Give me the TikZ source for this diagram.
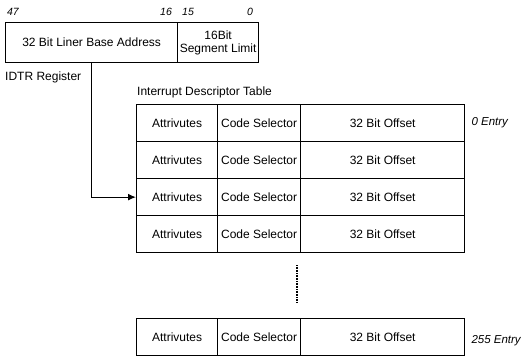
\documentclass[tikz,border=0pt]{standalone}
\usepackage{fontspec}
\setmainfont{Liberation Sans}
\usetikzlibrary{arrows.meta}
\begin{document}
\begin{tikzpicture}[x=1pt,y=-1pt,
  every node/.style={font=\fontsize{12}{13.5}\selectfont, inner sep=0pt},
  cell/.style={draw, line width=1.3pt, minimum height=37pt, anchor=north west},
  acol/.style={cell, minimum width=81pt},
  ccol/.style={cell, minimum width=83pt},
  ocol/.style={cell, minimum width=164pt},
  bitlbl/.style={font=\fontsize{10.5}{12}\selectfont\itshape},
  entry/.style={font=\fontsize{11.5}{13}\selectfont\itshape, anchor=west},
  plain/.style={anchor=west}]
\useasboundingbox (0,0) rectangle (521,357);
% IDTR register
\node[draw, line width=1.3pt, minimum width=172pt, minimum height=40pt, anchor=north west] (base) at (5,22) {32 Bit Liner Base Address};
\node[draw, line width=1.3pt, minimum width=81pt, minimum height=40pt, anchor=north west, align=center] (limit) at (177,22) {16Bit\\Segment Limit};
\node[bitlbl] (b47) at (13,12) {47};
\node[bitlbl] (b16) at (166,12) {16};
\node[bitlbl] (b15) at (188,12) {15};
\node[bitlbl] (b0) at (250,12) {0};
\node[plain] (idtr) at (5,77) {IDTR Register};
% IDT
\node[plain] (title) at (137,92) {Interrupt Descriptor Table};
\foreach \i/\y in {1/104,2/141,3/178,4/215,5/318}{
  \node[acol] (r\i a) at (136,\y) {Attrivutes};
  \node[ccol] (r\i c) at (217,\y) {Code Selector};
  \node[ocol] (r\i o) at (300,\y) {32 Bit Offset};
}
\node[entry] (e0) at ([xshift=6pt]r1o.east) {0 Entry};
\node[entry] (e255) at ([xshift=6pt,yshift=-4pt]r5o.east) {255 Entry};
% dots
\coordinate (d1) at (297,265);
\coordinate (d2) at (297,302);
\draw[dash pattern=on 1pt off 0.6pt, line width=1.1pt] (d1) -- (d2);
% arrow
\draw[line width=1.2pt, -{Latex[length=8pt,width=7pt]}] (base.south) |- (r3a.west);
\end{tikzpicture}
\end{document}
